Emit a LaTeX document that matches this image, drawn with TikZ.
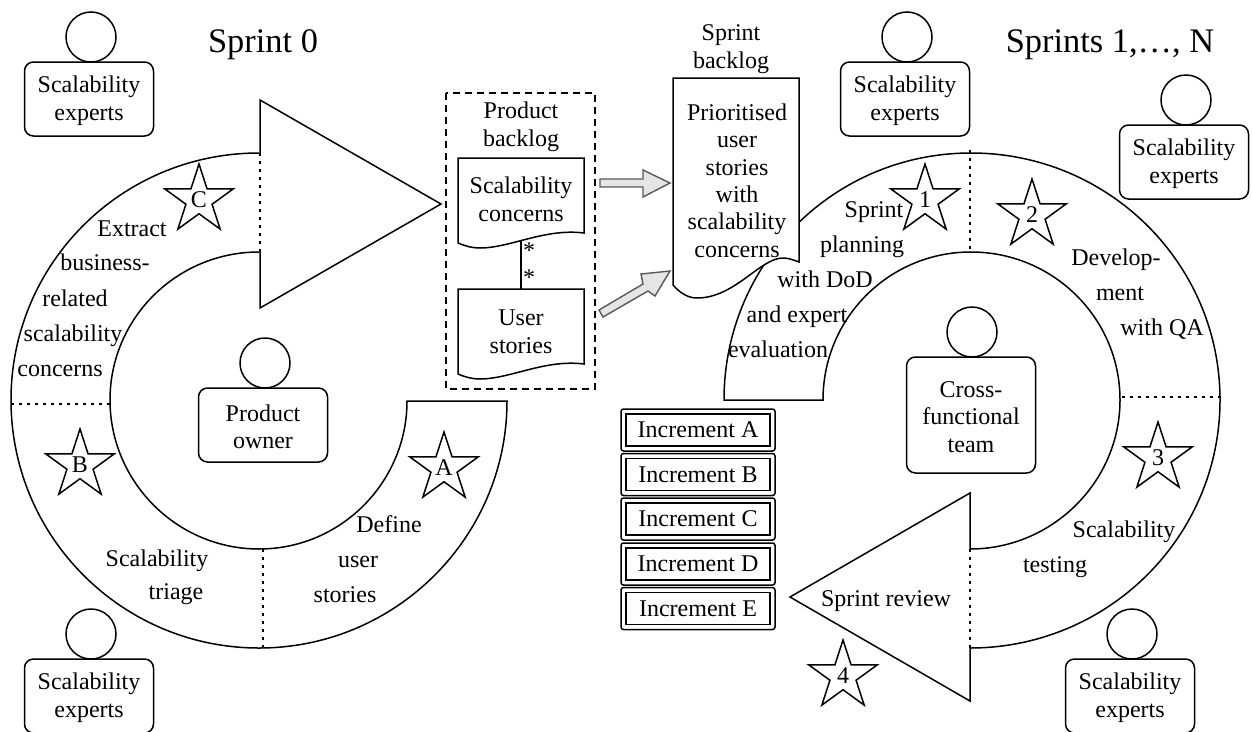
\documentclass[tikz,border=0pt]{standalone}
\usepackage{fontspec}
\setmainfont{Liberation Serif}
\usetikzlibrary{shapes.geometric}
\newcommand{\topfix}{\rule{0pt}{20pt}}
\tikzset{
  base/.style={line width=1.5pt,line join=miter},
  lab/.style={font=\fontsize{24}{27.3}\selectfont,anchor=base,inner sep=0pt,align=center},
  big/.style={font=\fontsize{34.4}{38}\selectfont,anchor=base,inner sep=0pt},
  head/.style={draw,circle,base,minimum size=50pt,inner sep=0pt,fill=white},
  role/.style={draw,base,rounded corners=9pt,inner sep=0pt,align=center,fill=white,
    font=\fontsize{24}{27.3}\selectfont,minimum width=129pt,minimum height=74pt},
  rating/.style={draw,base,star,star points=5,star point ratio=2.618,minimum size=72pt,inner sep=0pt,
    font=\fontsize{24}{27.3}\selectfont,shape border rotate=0},
  sep/.style={line width=1.4pt,dash pattern=on 3pt off 5pt},
  incout/.style={draw,base,rounded corners=2.5pt,minimum width=154pt,minimum height=42pt,inner sep=0pt},
  incin/.style={draw,base,minimum width=144pt,minimum height=32pt,inner sep=0pt,font=\fontsize{24}{27.3}\selectfont},
  doc/.style={draw,base,fill=white},
  flow/.style={draw=black!65,line width=1.4pt,fill=black!10,line join=miter}
}
\begin{document}
\begin{tikzpicture}[x=1pt,y=-1pt]
\useasboundingbox (0,0) rectangle (1252,731);
\clip (0,0) rectangle (1252,731);
\fill[white] (0,0) rectangle (1252,731);

% left ring
\draw[base] (259,153) .. controls (122,153) and (11,263) .. (11,400)
  .. controls (11,537) and (122,648) .. (259,648)
  .. controls (396,648) and (507,537) .. (507,401)
  -- (407,401)
  .. controls (407,482) and (341,549) .. (259,549)
  .. controls (177,549) and (110,482) .. (110,400)
  .. controls (110,318) and (177,252) .. (259,252);
\draw[sep] (260,153) -- (260,252);
\draw[base] (260,153) -- (260,100) -- (441,204) -- (260,308) -- (260,252);
\draw[sep] (11,404) -- (110,404);
\draw[sep] (263,549) -- (263,648);

% right ring
\draw[base] (970,549) .. controls (1052,549) and (1120,482) .. (1120,400)
  .. controls (1120,318) and (1053,252) .. (971,252)
  .. controls (889,252) and (823,318) .. (823,400)
  -- (724,400)
  .. controls (724,263) and (834,153) .. (971,153)
  .. controls (1108,153) and (1220,263) .. (1220,400)
  .. controls (1220,537) and (1108,648) .. (970,648);
\draw[sep] (970,150) -- (970,252);
\draw[sep] (1122,397) -- (1221,397);
\draw[sep] (970,549) -- (970,648);
\draw[base] (970,549) -- (970,493) -- (790,597) -- (970,701) -- (970,648);

% titles
\node[big] (t0) at (263,52) {Sprint 0};
\node[big] (tn) at (1110,52) {Sprints 1,…, N};

% actors
\node[head] (h1) at (91,37) {};
\node[role] (r1) at (89,99) {\topfix Scalability\\experts};
\node[head] (h2) at (91,634) {};
\node[role] (r2) at (89,696) {\topfix Scalability\\experts};
\node[head] (h3) at (907,37) {};
\node[role] (r3) at (905,99) {\topfix Scalability\\experts};
\node[head] (h4) at (1186,100) {};
\node[role] (r4) at (1184,162) {\topfix Scalability\\experts};
\node[head] (h5) at (1132,634) {};
\node[role] (r5) at (1130,696) {\topfix Scalability\\experts};
\node[head] (h6) at (265,363) {};
\node[role] (r6) at (263,425) {\topfix Product\\owner};
\node[head] (h7) at (972,332) {};
\node[role,minimum height=116pt] (r7) at (971,415) {\topfix Cross-\\functional\\team};

% product backlog
\draw[base,dash pattern=on 7pt off 5pt] (446,93) rectangle (595,389);
\node[lab] (pb) at (521,146) {Product\\backlog};
\coordinate (sctop) at (521,241);
\coordinate (ustop) at (521,289);
\draw[base] (sctop) -- (ustop);
\draw[doc] (458,158) -- (584,158) -- (584,233) .. controls (545,228) and (510,248) .. (480,248)
  .. controls (472,248) and (465,246) .. (458,243) -- cycle;
\node[lab] (sc) at (521,221) {Scalability\\concerns};
\draw[doc] (458,289) -- (584,289) -- (584,364) .. controls (545,359) and (510,379) .. (480,379)
  .. controls (472,379) and (465,377) .. (458,374) -- cycle;
\node[lab] (us) at (521,353) {User\\stories};
\node[lab] (m1) at (529,258) {*};
\node[lab] (m2) at (529,285) {*};

% block arrows
\draw[flow] (600,179) -- (643,179) -- (643,170) -- (670,183) -- (643,197) -- (643,187) -- (600,187) -- cycle;
\draw[flow] (599,310) -- (643,284) -- (641,274) -- (670,271) -- (655,296) -- (648,291) -- (603,317) -- cycle;

% sprint backlog
\node[lab] (sb) at (731,68) {Sprint\\backlog};
\draw[doc] (673,78) -- (799,78) -- (799,262) .. controls (791,259) and (787,258) .. (783,258)
  .. controls (760,258) and (735,298) .. (697,298) .. controls (688,298) and (680,293) .. (673,285) -- cycle;
\node[lab] (pu) at (737,257) {Prioritised\\user\\stories\\with\\scalability\\concerns};

% ring texts, left
\node[lab] (a1) at (132,236) {Extract};
\node[lab] (a2) at (105,270) {business-};
\node[lab] (a3) at (75,306) {related};
\node[lab] (a4) at (73,341) {scalability};
\node[lab] (a5) at (60,376) {concerns};
\node[lab] (b1) at (157,566) {Scalability};
\node[lab] (b2) at (176,599) {triage};
\node[lab] (c1) at (389,532) {Define};
\node[lab] (c2) at (358,567) {user};
\node[lab] (c3) at (345,602) {stories};

% ring texts, right
\node[lab] (d1) at (874,217) {Sprint};
\node[lab] (d2) at (862,252) {planning};
\node[lab] (d3) at (825,287) {with DoD};
\node[lab] (d4) at (797,322) {and expert};
\node[lab] (d5) at (778,357) {evaluation};
\node[lab] (e1) at (1116,265) {Develop-};
\node[lab] (e2) at (1120,300) {ment};
\node[lab] (e3) at (1162,335) {with QA};
\node[lab] (f1) at (1124,537) {Scalability};
\node[lab] (f2) at (1055,572) {testing};
\node[lab] (g1) at (886,606) {Sprint review};

% stars
\node[rating] (sA) at (444,468) {A};
\node[rating] (sB) at (80,465) {B};
\node[rating] (sC) at (199,200) {C};
\node[rating] (s1) at (925,200) {1};
\node[rating] (s2) at (1032,215) {2};
\node[rating] (s3) at (1158,458) {3};
\node[rating] (s4) at (843,676) {4};

% increments
\foreach \n/\y/\t in {ia/430/A,ib/474.5/B,ic/519/C,id/564/D,ie/608.5/E}{
  \node[incout] (\n) at (698,\y) {};
  \node[incin] (\n t) at (\n) {Increment \t};
}
\end{tikzpicture}
\end{document}
